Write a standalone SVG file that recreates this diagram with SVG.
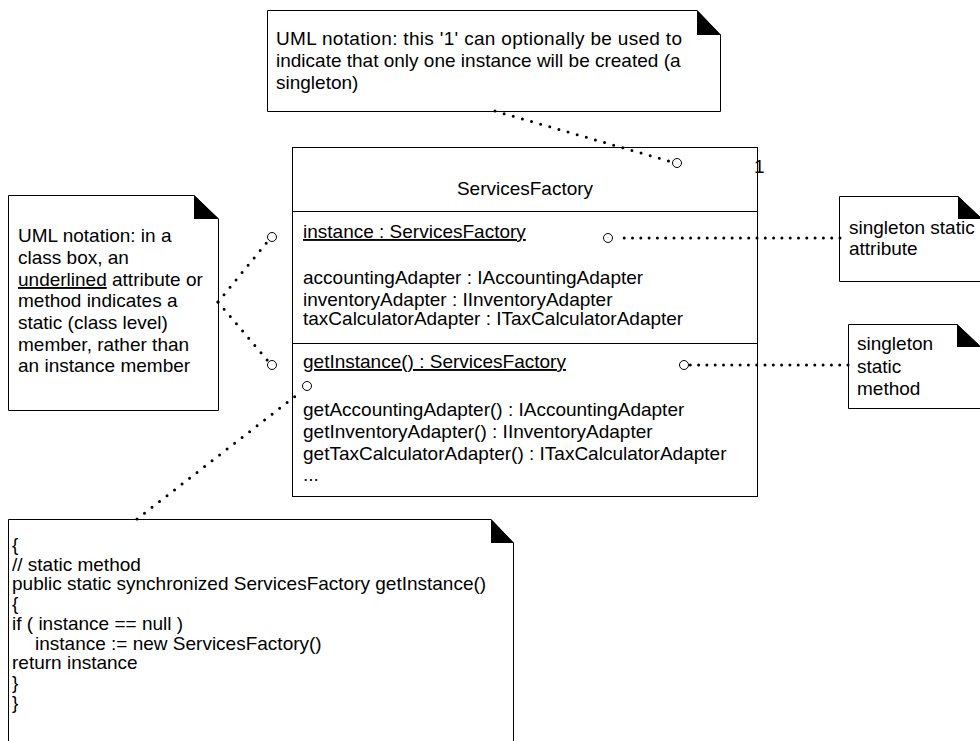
<svg xmlns="http://www.w3.org/2000/svg" width="980" height="741" viewBox="0 0 980 741">
<style>
.t{font-family:"Liberation Sans",Arial,sans-serif;font-size:19px;fill:#000}
.box{fill:#fff;stroke:#000;stroke-width:1}
.ear{fill:#000;stroke:none}
.dot{fill:none;stroke:#000;stroke-width:3;stroke-linecap:round;stroke-dasharray:0 9.5}
.dh{fill:none;stroke:#000;stroke-width:3;stroke-linecap:round;stroke-dasharray:0 8.3}
.pin{fill:#fff;stroke:#000;stroke-width:1}
.u{text-decoration:underline}
</style>
<rect width="980" height="741" fill="#fff"/>

<g id="note-singleton-one">
<path class="box" d="M267.5,10.5 H697 L720.5,35 V111.5 H267.5 Z"/>
<path class="ear" d="M697,10 V35 H721 Z"/>
<text class="t" x="276" y="45" textLength="406" lengthAdjust="spacing">UML notation: this '1' can optionally be used to</text>
<text class="t" x="276" y="67">indicate that only one instance will be created (a</text>
<text class="t" x="276" y="89">singleton)</text>
</g>

<g id="class-ServicesFactory">
<rect class="box" x="292.5" y="147.5" width="465" height="349"/>
<line x1="292.5" y1="211.5" x2="757.5" y2="211.5" stroke="#000"/>
<line x1="292.5" y1="343.5" x2="757.5" y2="343.5" stroke="#000"/>
<text class="t" x="525" y="195" text-anchor="middle">ServicesFactory</text>
<text class="t" x="754" y="173">1</text>
<text class="t u" x="303" y="238">instance : ServicesFactory</text>
<text class="t" x="303" y="284">accountingAdapter : IAccountingAdapter</text>
<text class="t" x="303" y="306">inventoryAdapter : IInventoryAdapter</text>
<text class="t" x="303" y="325">taxCalculatorAdapter : ITaxCalculatorAdapter</text>
<text class="t u" x="303" y="368">getInstance() : ServicesFactory</text>
<text class="t" x="303" y="416">getAccountingAdapter() : IAccountingAdapter</text>
<text class="t" x="303" y="438">getInventoryAdapter() : IInventoryAdapter</text>
<text class="t" x="303" y="460">getTaxCalculatorAdapter() : ITaxCalculatorAdapter</text>
<text class="t" x="303" y="481">...</text>
</g>

<g id="note-static-member">
<path class="box" d="M8.5,195.5 H194 L218.5,219 V410.5 H8.5 Z"/>
<path class="ear" d="M194,195 V219 H219 Z"/>
<text class="t" x="18" y="242">UML notation: in a</text>
<text class="t" x="18" y="264">class box, an</text>
<text class="t" x="18" y="286"><tspan class="u">underlined</tspan> attribute or</text>
<text class="t" x="18" y="307">method indicates a</text>
<text class="t" x="18" y="329">static (class level)</text>
<text class="t" x="18" y="351">member, rather than</text>
<text class="t" x="18" y="372">an instance member</text>
</g>

<g id="note-static-attribute">
<path class="box" d="M839.5,196.5 H958 L982,219 V281.5 H839.5 Z"/>
<path class="ear" d="M958,196 V219 H982 Z"/>
<text class="t" x="849" y="234">singleton static</text>
<text class="t" x="849" y="255">attribute</text>
</g>

<g id="note-static-method">
<path class="box" d="M848.5,324.5 H957 L981,347 V408.5 H848.5 Z"/>
<path class="ear" d="M957,324 V347 H981 Z"/>
<text class="t" x="857" y="350">singleton</text>
<text class="t" x="857" y="373">static</text>
<text class="t" x="857" y="395">method</text>
</g>

<g id="note-code">
<path class="box" d="M8.5,519.5 H491 L513.5,543 V760 H8.5 Z"/>
<path class="ear" d="M491,519 V543 H514 Z"/>
<text class="t" x="12" y="551">{</text>
<text class="t" x="12" y="571">// static method</text>
<text class="t" x="12" y="590">public static synchronized ServicesFactory getInstance()</text>
<text class="t" x="12" y="610">{</text>
<text class="t" x="12" y="630">if ( instance == null )</text>
<text class="t" x="35" y="650">instance := new ServicesFactory()</text>
<text class="t" x="12" y="669">return instance</text>
<text class="t" x="12" y="689">}</text>
<text class="t" x="12" y="709">}</text>
</g>

<g id="connectors">
<line class="dot" x1="495" y1="111" x2="672" y2="162"/>
<circle class="pin" cx="677" cy="163" r="4.5"/>
<line class="dh" x1="840" y1="238" x2="618" y2="238"/>
<circle class="pin" cx="608" cy="238" r="4.5"/>
<line class="dh" x1="848" y1="365" x2="690" y2="365"/>
<circle class="pin" cx="684" cy="365" r="4.5"/>
<line class="dot" x1="218" y1="302" x2="268" y2="241"/>
<line class="dot" x1="218" y1="302" x2="268" y2="361"/>
<circle class="pin" cx="272" cy="237" r="4.5"/>
<circle class="pin" cx="272" cy="365" r="4.5"/>
<line class="dot" x1="137" y1="519" x2="302" y2="391"/>
<circle class="pin" cx="307" cy="386" r="4.5"/>
</g>
</svg>
